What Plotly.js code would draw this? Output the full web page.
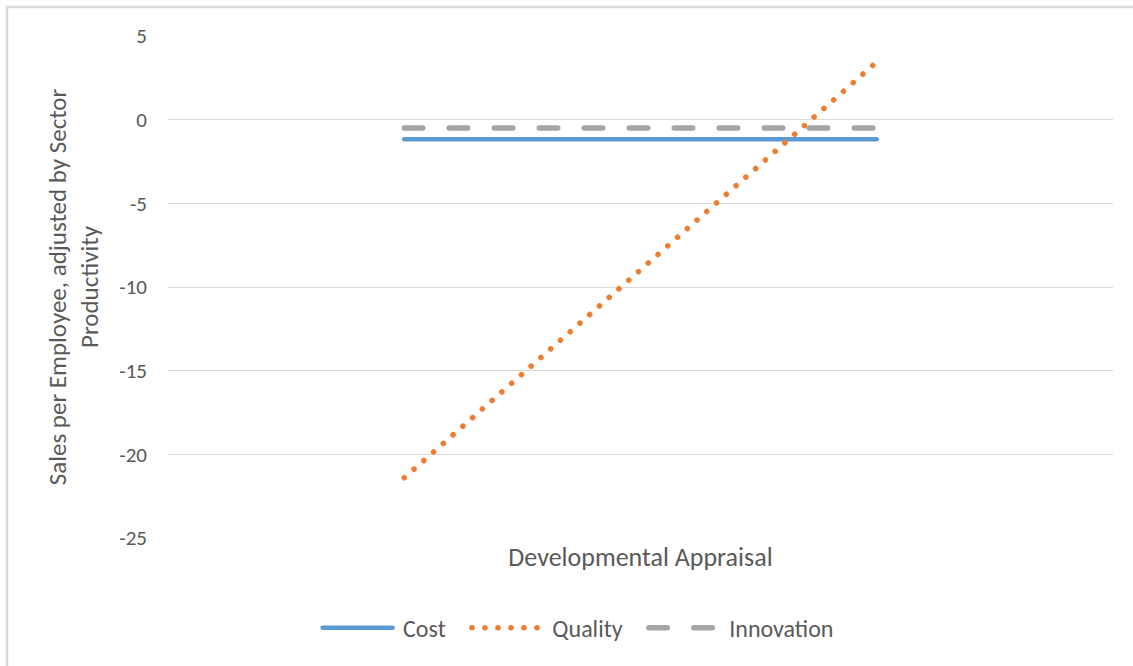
<!DOCTYPE html>
<html>
<head>
<meta charset="utf-8">
<script src="https://cdn.plot.ly/plotly-3.0.1.min.js"></script>
<style>
html, body { margin: 0; padding: 0; background: #fff; }
#chart { width: 1133px; height: 666px; }
#chart path.js-line { stroke-linecap: round; }
</style>
</head>
<body>
<div id="chart"></div>
<script>
// Data
const categories = ["Low", "High"];
const costValues = [-1.17, -1.17];
const qualityValues = [-21.4, 3.45];
const innovationValues = [-0.5, -0.5];
const yTickValues = [5, 0, -5, -10, -15, -20, -25];
const seriesNames = ["Cost", "Quality", "Innovation"];
const xTitle = "Developmental Appraisal";
const yTitle = "Sales per Employee, adjusted by Sector<br>Productivity";

const FONT = "Carlito, Calibri, Lato, sans-serif";
const TXT = "#595959";
const LEAD = "\u00a0";
const PAD = "\u00a0\u00a0\u00a0";

const traces = [
  {
    x: categories, y: costValues, name: LEAD + seriesNames[0] + PAD, type: "scatter", mode: "lines",
    line: { color: "#5B9BD5", width: 4.5 }
  },
  {
    x: categories, y: qualityValues, name: LEAD + seriesNames[1] + PAD, type: "scatter", mode: "lines",
    line: { color: "#ED7D31", width: 5.5, dash: "0.1px,12.9px" }
  },
  {
    x: categories, y: innovationValues, name: LEAD + seriesNames[2], type: "scatter", mode: "lines",
    line: { color: "#A5A5A5", width: 5.5, dash: "18.5px,26.5px" }
  }
];

const layout = {
  width: 1133, height: 666,
  margin: { l: 168, r: 20, t: 36, b: 128 },
  paper_bgcolor: "#fff", plot_bgcolor: "#fff",
  font: { family: FONT, color: TXT, size: 20 },
  showlegend: true,
  legend: {
    orientation: "h", x: 0.434, xanchor: "center", y: -0.135, yanchor: "top",
    font: { family: FONT, size: 24, color: TXT },
    itemwidth: 70, tracegroupgap: 0
  },
  xaxis: {
    type: "category", range: [-0.5, 1.5],
    showticklabels: false, ticks: "", showgrid: false, zeroline: false,
    showline: false, fixedrange: true,
    title: { text: xTitle, font: { family: FONT, size: 26, color: TXT }, standoff: 9 }
  },
  yaxis: {
    range: [-25, 5], tickvals: yTickValues, ticktext: yTickValues.map(String),
    showgrid: true, gridcolor: "#D9D9D9", gridwidth: 1,
    zeroline: false, showline: false, ticks: "",
    ticklabelstandoff: 20,
    tickfont: { family: FONT, size: 21, color: TXT },
    title: { text: yTitle, font: { family: FONT, size: 25, color: TXT }, standoff: 13 }
  },
  shapes: [
    {
      type: "rect", xref: "paper", yref: "paper",
      x0: (7 - 168) / 945, x1: (1145 - 168) / 945,
      y0: (538 - 680) / 502, y1: 1 + (36 - 7) / 502,
      line: { color: "#D9D9D9", width: 2.5 }, fillcolor: "rgba(0,0,0,0)", layer: "below"
    }
  ]
};

Plotly.newPlot("chart", traces, layout, { displayModeBar: false, staticPlot: true });
</script>
</body>
</html>
